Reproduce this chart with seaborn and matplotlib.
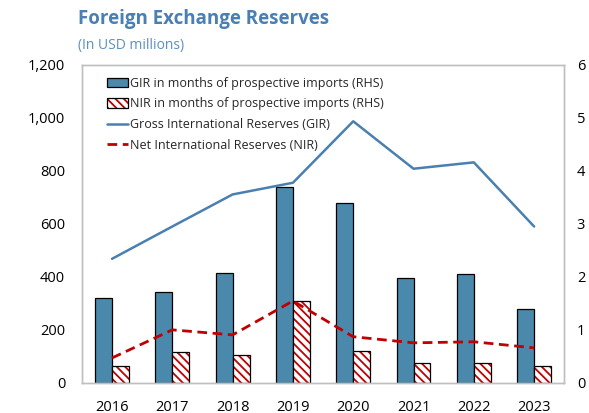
import numpy as np
import pandas as pd
import matplotlib
matplotlib.use("Agg")
import matplotlib.pyplot as plt
import seaborn as sns
from matplotlib.patches import Patch
from matplotlib.lines import Line2D

# data
years = ["2016", "2017", "2018", "2019", "2020", "2021", "2022", "2023"]
gir = [468, 590, 711, 755, 987, 808, 832, 590]          # USD millions (LHS)
nir = [94, 200, 181, 309, 174, 151, 155, 132]           # USD millions (LHS)
gir_months = [1.60, 1.72, 2.08, 3.70, 3.40, 1.98, 2.06, 1.40]   # RHS
nir_months = [0.32, 0.58, 0.53, 1.55, 0.60, 0.38, 0.38, 0.31]   # RHS

bar_labels = ["GIR in months of prospective imports (RHS)",
              "NIR in months of prospective imports (RHS)"]
line_labels = ["Gross International Reserves (GIR)",
               "Net International Reserves (NIR)"]

sns.set_style("white")
plt.rcParams["font.family"] = ["Open Sans", "DejaVu Sans"]
plt.rcParams["hatch.linewidth"] = 1.3

bar_blue = "#4a89ab"
line_blue = "#4a80b0"
red = "#c00000"
spine_gray = "#bfbfbf"
hatch = "\\\\\\\\"

fig = plt.figure(figsize=(5.89, 4.13), dpi=100)
ax = fig.add_axes([0.139, 0.073, 0.819, 0.770])
ax2 = ax.twinx()

# bars on the right axis
bars = pd.DataFrame({
    "year": years * 2,
    "months": gir_months + nir_months,
    "series": [bar_labels[0]] * len(years) + [bar_labels[1]] * len(years),
})
sns.barplot(data=bars, x="year", y="months", hue="series", ax=ax2,
            palette=[bar_blue, "white"], width=0.56, legend=False,
            edgecolor="black", linewidth=0.9, saturation=1)
n = len(years)
for p in ax2.patches[n:2 * n]:
    p.set_hatch(hatch)
    p.set_edgecolor(red)
    p.set_linewidth(0)
    # black outline on top of the red hatch
    ax2.add_patch(plt.Rectangle(p.get_xy(), p.get_width(), p.get_height(),
                                fill=False, edgecolor="black", linewidth=0.9))

# lines on the left axis, drawn above the bars
lines = pd.DataFrame({"x": np.arange(n), "gir": gir, "nir": nir})
sns.lineplot(data=lines, x="x", y="gir", ax=ax, color=line_blue, linewidth=1.8)
sns.lineplot(data=lines, x="x", y="nir", ax=ax, color=red, linewidth=2,
             linestyle=(0, (3.5, 2)))
ax.set_zorder(ax2.get_zorder() + 1)
ax.patch.set_visible(False)

ax.set_xlim(-0.5, n - 0.5)
ax.set_ylim(0, 1200)
ax2.set_ylim(0, 6)
ax.set_yticks(range(0, 1201, 200))
ax.set_yticklabels([f"{v:,}" for v in range(0, 1201, 200)])
ax2.set_yticks(range(0, 7))
ax.set_xticks(range(n))
ax.set_xticklabels(years)
for a in (ax, ax2):
    a.set_xlabel("")
    a.set_ylabel("")
    a.tick_params(length=0, labelsize=10.5, colors="black")
    for s in a.spines.values():
        s.set_color(spine_gray)
        s.set_linewidth(1)
ax.tick_params(axis="y", pad=12)
ax2.tick_params(axis="y", pad=9)
ax.tick_params(axis="x", pad=12)

handles = [
    Patch(facecolor=bar_blue, edgecolor="black", linewidth=0.9),
    (Patch(facecolor="white", edgecolor=red, hatch=hatch, linewidth=0),
     Patch(fill=False, edgecolor="black", linewidth=0.9)),
    Line2D([], [], color=line_blue, linewidth=1.8),
    Line2D([], [], color=red, linewidth=2, linestyle=(0, (3.5, 2))),
]
ax.legend(handles, bar_labels + line_labels, loc="upper left",
          bbox_to_anchor=(0.027, 1.0), frameon=False, fontsize=9,
          handlelength=1.7, handleheight=0.8, handletextpad=0.15,
          labelspacing=0.62, borderaxespad=0.55)

fig.text(0.133, 0.955, "Foreign Exchange Reserves", fontsize=13.5,
         fontweight="bold", color="#4a7fb3", va="center", ha="left")
fig.text(0.133, 0.890, "(In USD millions)", fontsize=10,
         color="#5b8fc5", va="center", ha="left")

fig.savefig("out.png", dpi=100)
